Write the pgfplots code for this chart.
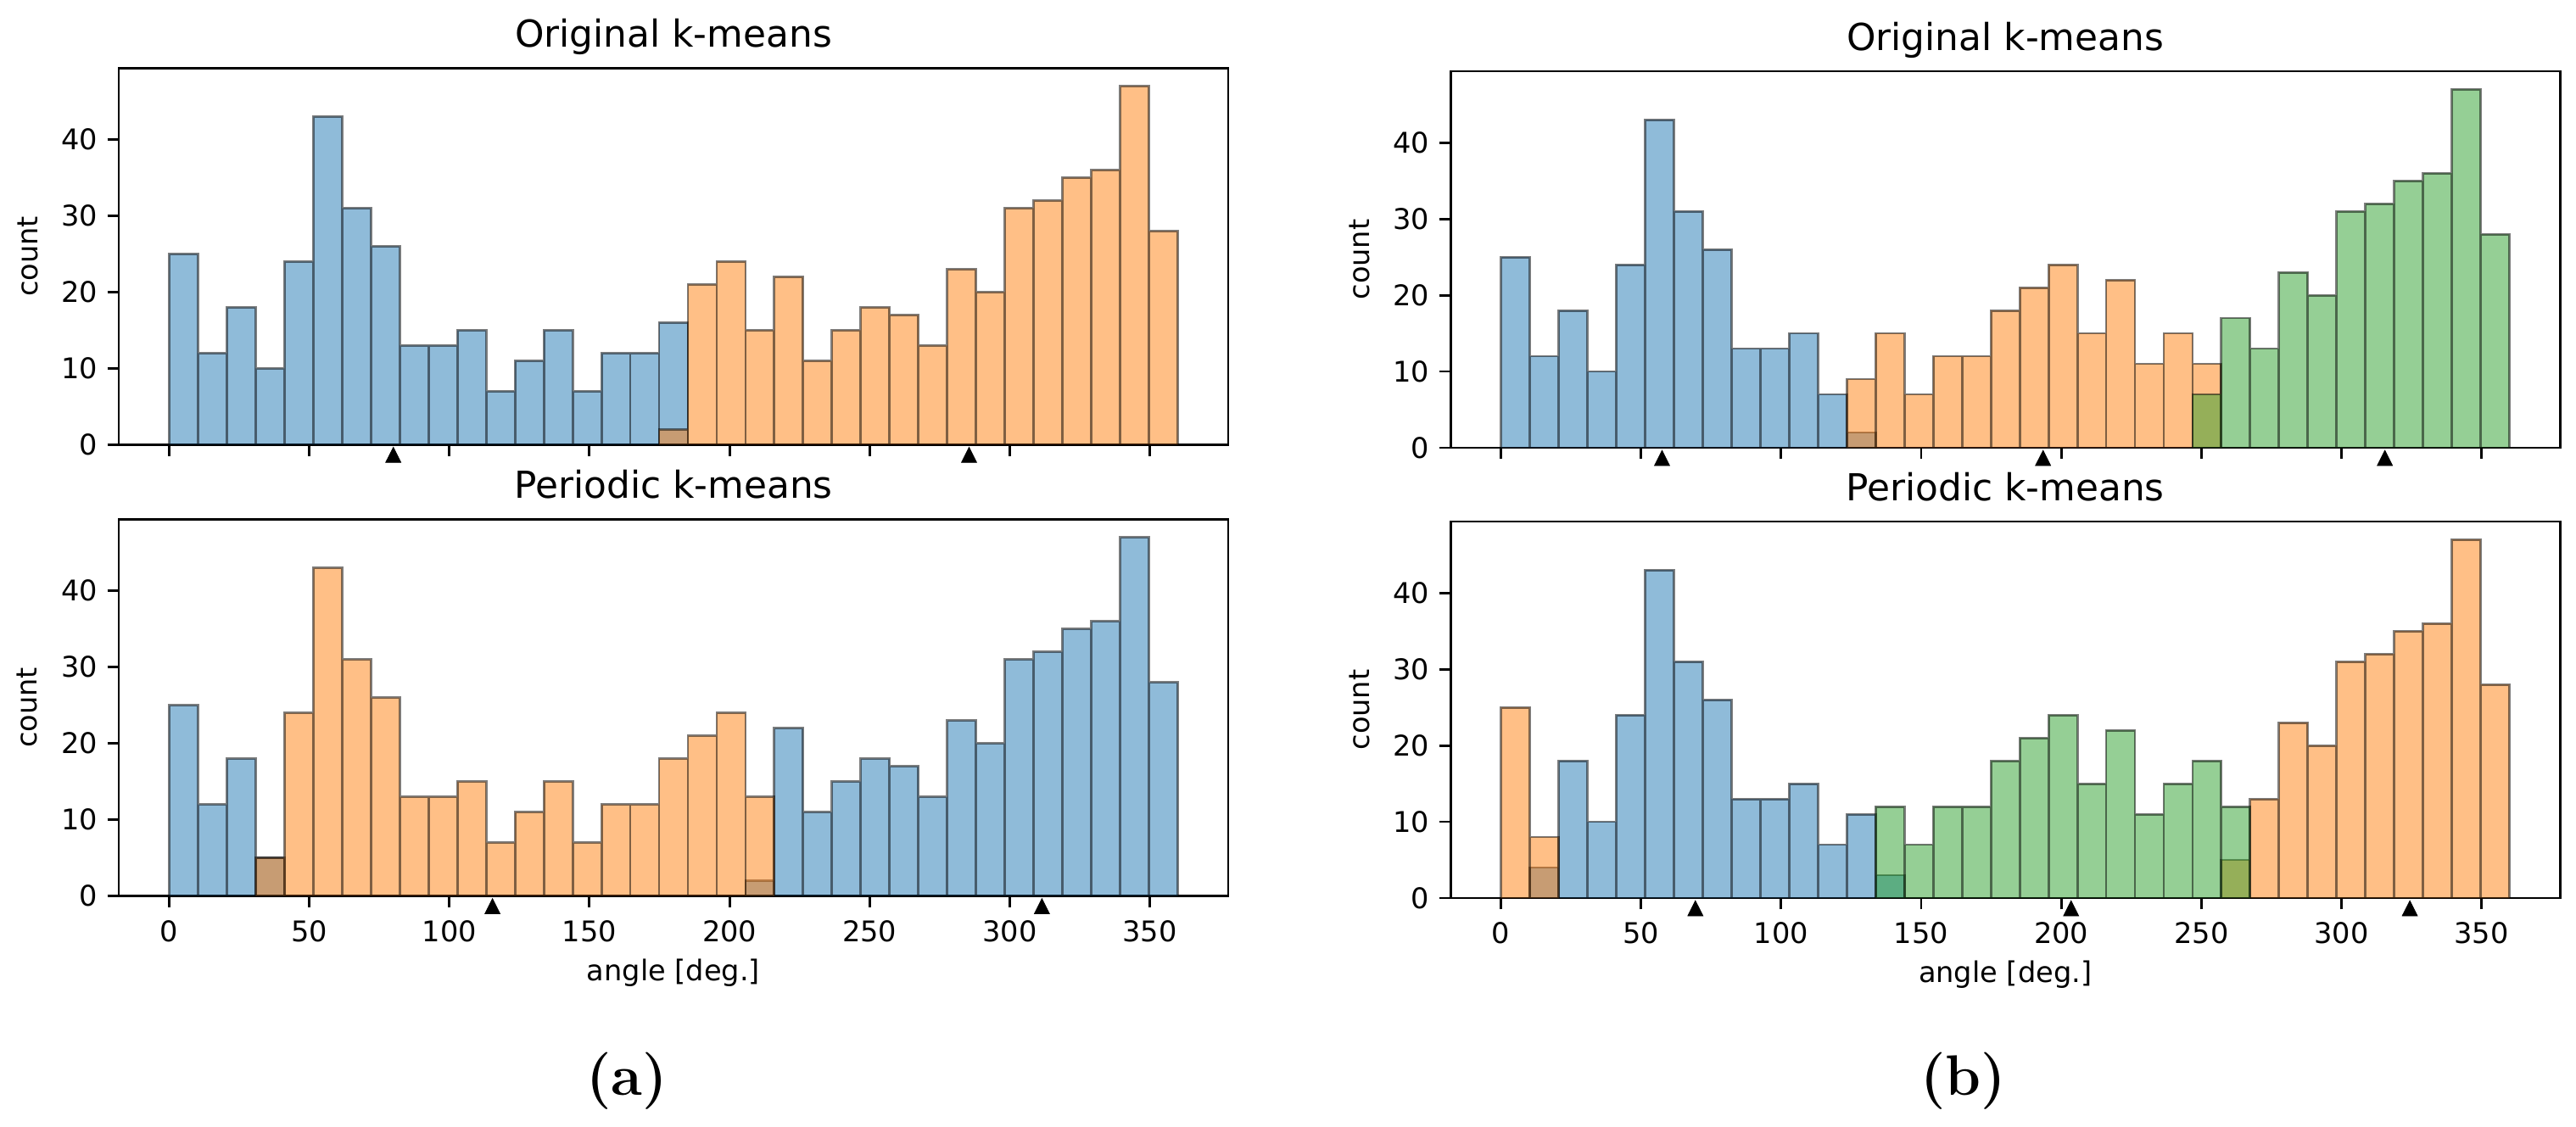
\documentclass[border=0pt]{standalone}
\usepackage{fontspec}
\setsansfont{DejaVu Sans}
\usepackage{pgfplots}
\pgfplotsset{compat=1.18}

\definecolor{tabblue}{HTML}{1F77B4}
\definecolor{taborange}{HTML}{FF7F0E}
\definecolor{tabgreen}{HTML}{2CA02C}

% 35 bins of 360/35 deg, bars placed at bin centres
\pgfplotsset{
  hist/.style={ybar, bar width=10.2857, bar shift=0pt, fill=#1, fill opacity=0.5,
    draw=black, draw opacity=0.5, line width=0.9pt},
  centre/.style={only marks, mark=triangle*, mark size=3.25pt,
    mark options={fill=black, draw=black, line width=0.2pt, yscale=1.15}},
  panel/.style={
    scale only axis, width=408.75pt, height=138.75pt, anchor=south west,
    xmin=-18, xmax=378, ymin=0, ymax=49.35,
    xtick={0,50,...,350}, ytick={0,10,...,40},
    tick pos=left, tick align=outside, major tick length=4.2pt,
    major tick style={black, line width=0.9pt},
    axis line style={line width=0.9pt},
    clip=false,
    /pgf/number format/assume math mode=true,
    tick label style={font=\sffamily\fontsize{10.5}{12}\selectfont},
    xticklabel style={yshift=-1.2pt},
    every axis title/.style={at={(axis description cs:0.5,1)}, anchor=base,
      yshift=7.8pt, font=\sffamily\fontsize{13.7}{16}\selectfont},
    ylabel={count},
    every axis y label/.style={at={(axis description cs:-0.0734,0.5)}, rotate=90,
      anchor=base, font=\sffamily\fontsize{10.5}{12}\selectfont},
    every axis x label/.style={at={(axis description cs:0.5,-0.2249)},
      anchor=base, font=\sffamily\fontsize{10.5}{12}\selectfont},
  }
}

\begin{document}
\begin{tikzpicture}
\path[use as bounding box] (0,0) rectangle (949.06pt,-415pt);

% ---------- (a) original ----------
\begin{axis}[panel, at={(43.75pt,-163.84pt)}, title={Original k-means}, xticklabels={}]
\addplot[hist=tabblue] coordinates {
  (5.143,25) (15.429,12) (25.714,18) (36,10) (46.286,24) (56.571,43) (66.857,31)
  (77.143,26) (87.429,13) (97.714,13) (108,15) (118.286,7) (128.571,11) (138.857,15)
  (149.143,7) (159.429,12) (169.714,12) (180,16)};
\addplot[hist=taborange] coordinates {
  (180,2) (190.286,21) (200.571,24) (210.857,15) (221.143,22) (231.429,11) (241.714,15)
  (252,18) (262.286,17) (272.571,13) (282.857,23) (293.143,20) (303.429,31) (313.714,32)
  (324,35) (334.286,36) (344.571,47) (354.857,28)};
\addplot[centre] coordinates {(80,-1.67) (285.5,-1.67)};
\end{axis}

% ---------- (a) periodic ----------
\begin{axis}[panel, at={(43.75pt,-330.16pt)}, title={Periodic k-means}, xlabel={angle [deg.]}]
\addplot[hist=tabblue] coordinates {
  (5.143,25) (15.429,12) (25.714,18) (36,5) (210.857,2) (221.143,22) (231.429,11)
  (241.714,15) (252,18) (262.286,17) (272.571,13) (282.857,23) (293.143,20) (303.429,31)
  (313.714,32) (324,35) (334.286,36) (344.571,47) (354.857,28)};
\addplot[hist=taborange] coordinates {
  (36,5) (46.286,24) (56.571,43) (66.857,31) (77.143,26) (87.429,13) (97.714,13)
  (108,15) (118.286,7) (128.571,11) (138.857,15) (149.143,7) (159.429,12) (169.714,12)
  (180,18) (190.286,21) (200.571,24) (210.857,13)};
\addplot[centre] coordinates {(115.4,-1.67) (311.5,-1.67)};
\end{axis}

% ---------- (b) original ----------
\begin{axis}[panel, at={(534.4pt,-165pt)}, title={Original k-means}, xticklabels={}]
\addplot[hist=tabblue] coordinates {
  (5.143,25) (15.429,12) (25.714,18) (36,10) (46.286,24) (56.571,43) (66.857,31)
  (77.143,26) (87.429,13) (97.714,13) (108,15) (118.286,7) (128.571,2)};
\addplot[hist=taborange] coordinates {
  (128.571,9) (138.857,15) (149.143,7) (159.429,12) (169.714,12) (180,18) (190.286,21)
  (200.571,24) (210.857,15) (221.143,22) (231.429,11) (241.714,15) (252,11)};
\addplot[hist=tabgreen] coordinates {
  (252,7) (262.286,17) (272.571,13) (282.857,23) (293.143,20) (303.429,31) (313.714,32)
  (324,35) (334.286,36) (344.571,47) (354.857,28)};
\addplot[centre] coordinates {(57.5,-1.67) (193.5,-1.67) (315.5,-1.67)};
\end{axis}

% ---------- (b) periodic ----------
\begin{axis}[panel, at={(534.4pt,-330.94pt)}, title={Periodic k-means}, xlabel={angle [deg.]}]
\addplot[hist=tabblue] coordinates {
  (15.429,4) (25.714,18) (36,10) (46.286,24) (56.571,43) (66.857,31) (77.143,26)
  (87.429,13) (97.714,13) (108,15) (118.286,7) (128.571,11) (138.857,3)};
\addplot[hist=taborange] coordinates {
  (5.143,25) (15.429,8) (262.286,5) (272.571,13) (282.857,23) (293.143,20) (303.429,31)
  (313.714,32) (324,35) (334.286,36) (344.571,47) (354.857,28)};
\addplot[hist=tabgreen] coordinates {
  (138.857,12) (149.143,7) (159.429,12) (169.714,12) (180,18) (190.286,21) (200.571,24)
  (210.857,15) (221.143,22) (231.429,11) (241.714,15) (252,18) (262.286,12)};
\addplot[centre] coordinates {(69.4,-1.67) (203.5,-1.67) (324.4,-1.67)};
\end{axis}

\node[anchor=base, font=\bfseries\fontsize{21}{24}\selectfont] at (230.9pt,-403.6pt) {(a)};
\node[anchor=base, font=\bfseries\fontsize{21}{24}\selectfont] at (723.3pt,-403.6pt) {(b)};
\end{tikzpicture}
\end{document}
